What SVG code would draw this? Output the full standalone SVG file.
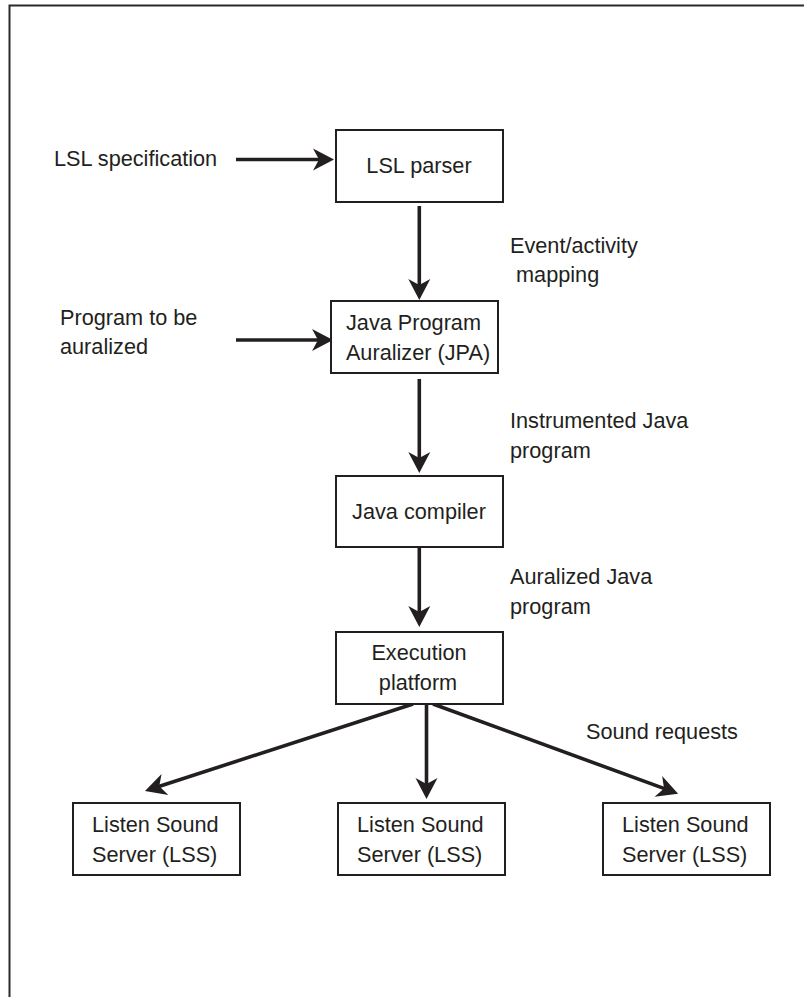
<svg xmlns="http://www.w3.org/2000/svg" width="804" height="997" viewBox="0 0 804 997">
<style>
text{font-family:"Liberation Sans",Arial,sans-serif;font-size:21.7px;fill:#231f20}
.box{fill:#fff;stroke:#231f20;stroke-width:2}
.c{text-anchor:middle}
.arr{stroke:#231f20;stroke-width:3.6;fill:none;marker-end:url(#ah)}
.frame{stroke:#2b2b2b;stroke-width:2;fill:none}
</style>
<defs>
<marker id="ah" markerUnits="userSpaceOnUse" markerWidth="30" markerHeight="30" refX="13" refY="0" orient="auto" overflow="visible" viewBox="-5 -15 30 30">
<path d="M21,0 L0,-11 L6,0 L0,11 Z" fill="#231f20"/>
</marker>
</defs>
<path class="frame" d="M9.5,997 L9.5,5.5 L804,5.5"/>
<g id="labels">
<text x="54" y="166">LSL specification</text>
<text x="60" y="325">Program to be</text>
<text x="60" y="354">auralized</text>
<text x="510" y="253">Event/activity</text>
<text x="516" y="282">mapping</text>
<text x="510" y="428">Instrumented Java</text>
<text x="510" y="458">program</text>
<text x="510" y="584">Auralized Java</text>
<text x="510" y="614">program</text>
<text x="586" y="739">Sound requests</text>
</g>
<g id="connectors">
<line class="arr" x1="236" y1="159.5" x2="326" y2="159.5"/>
<line class="arr" x1="236" y1="340" x2="325" y2="340"/>
<line class="arr" x1="419.3" y1="206" x2="419.3" y2="292"/>
<line class="arr" x1="419.3" y1="379" x2="419.3" y2="465"/>
<line class="arr" x1="419.3" y1="547" x2="419.3" y2="619"/>
<line class="arr" x1="413" y1="704" x2="152.6" y2="788.5"/>
<line class="arr" x1="426.5" y1="704" x2="426.5" y2="791"/>
<line class="arr" x1="433" y1="704" x2="670.6" y2="790.9"/>
</g>
<g id="lsl-parser">
<rect class="box" x="336" y="130" width="167" height="72"/>
<text class="c" x="419" y="173">LSL parser</text>
</g>
<g id="jpa">
<rect class="box" x="331" y="301" width="167" height="72"/>
<text class="c" x="413.5" y="329.5">Java Program</text>
<text class="c" x="418" y="360">Auralizer (JPA)</text>
</g>
<g id="java-compiler">
<rect class="box" x="336" y="476" width="167" height="71"/>
<text class="c" x="419" y="519">Java compiler</text>
</g>
<g id="execution-platform">
<rect class="box" x="336" y="632" width="167" height="72"/>
<text class="c" x="419" y="660">Execution</text>
<text class="c" x="418" y="690">platform</text>
</g>
<g id="lss1">
<rect class="box" x="73" y="803" width="167" height="72"/>
<text x="92" y="832">Listen Sound</text>
<text x="92" y="862">Server (LSS)</text>
</g>
<g id="lss2">
<rect class="box" x="338" y="803" width="167" height="72"/>
<text x="357" y="832">Listen Sound</text>
<text x="357" y="862">Server (LSS)</text>
</g>
<g id="lss3">
<rect class="box" x="603" y="803" width="167" height="72"/>
<text x="622" y="832">Listen Sound</text>
<text x="622" y="862">Server (LSS)</text>
</g>
</svg>
